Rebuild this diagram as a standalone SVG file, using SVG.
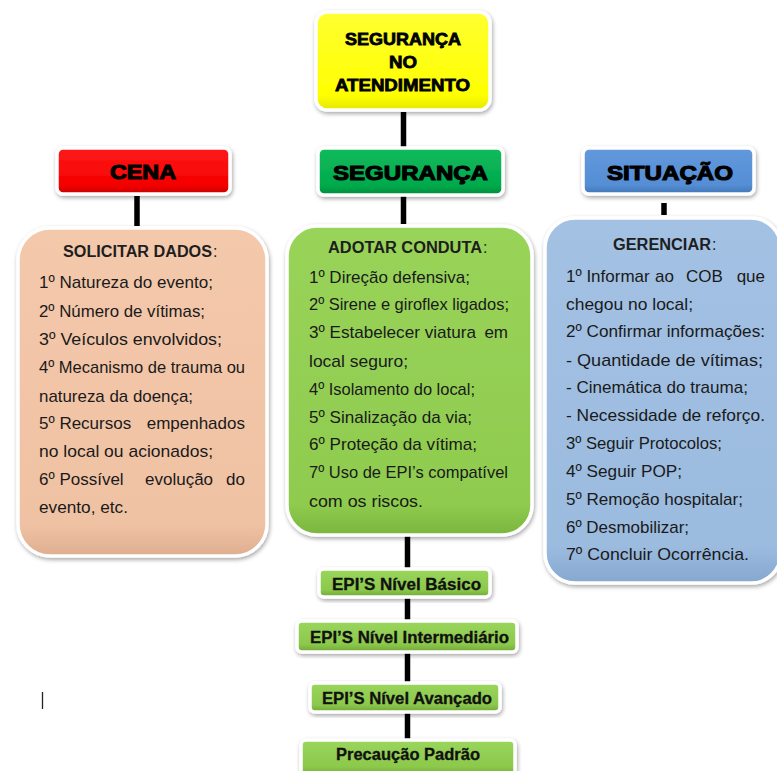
<svg xmlns="http://www.w3.org/2000/svg" width="777" height="771" viewBox="0 0 777 771">
<defs>
  <filter id="sh" x="-10%" y="-10%" width="125%" height="130%">
    <feDropShadow dx="1" dy="2" stdDeviation="2" flood-color="#000" flood-opacity="0.35"/>
  </filter>
  <linearGradient id="gYel" x1="0" y1="0" x2="0" y2="1"><stop offset="0" stop-color="#FFFF33"/><stop offset="0.85" stop-color="#FFFF00"/><stop offset="1" stop-color="#E6E600"/></linearGradient>
  <linearGradient id="gRed" x1="0" y1="0" x2="0" y2="1"><stop offset="0" stop-color="#FF1A1A"/><stop offset="0.8" stop-color="#F50000"/><stop offset="1" stop-color="#C80000"/></linearGradient>
  <linearGradient id="gGrn" x1="0" y1="0" x2="0" y2="1"><stop offset="0" stop-color="#10BB5C"/><stop offset="0.8" stop-color="#00AA4C"/><stop offset="1" stop-color="#008A3C"/></linearGradient>
  <linearGradient id="gBlu" x1="0" y1="0" x2="0" y2="1"><stop offset="0" stop-color="#6399DC"/><stop offset="0.8" stop-color="#558ED5"/><stop offset="1" stop-color="#4275B5"/></linearGradient>
  <linearGradient id="gPea" x1="0" y1="0" x2="0" y2="1"><stop offset="0" stop-color="#F4C8AB"/><stop offset="0.9" stop-color="#F0C2A4"/><stop offset="1" stop-color="#DFAE90"/></linearGradient>
  <linearGradient id="gLgr" x1="0" y1="0" x2="0" y2="1"><stop offset="0" stop-color="#99D45A"/><stop offset="0.9" stop-color="#8FCB4E"/><stop offset="1" stop-color="#7AB63E"/></linearGradient>
  <linearGradient id="gLbl" x1="0" y1="0" x2="0" y2="1"><stop offset="0" stop-color="#A3C1E3"/><stop offset="0.9" stop-color="#9BBBDF"/><stop offset="1" stop-color="#86A7CF"/></linearGradient>
  <linearGradient id="gEpi" x1="0" y1="0" x2="0" y2="1"><stop offset="0" stop-color="#9AD65C"/><stop offset="0.75" stop-color="#8CC84B"/><stop offset="1" stop-color="#6FA637"/></linearGradient>
</defs>
<style>
  .box { stroke: #FFFFFF; stroke-width: 3.5; filter: url(#sh); }
  .ttl { font-family: "Liberation Sans", Arial, sans-serif; font-weight: bold; fill: #000; stroke: #000; stroke-width: 1.1; }
  .ttl2 { font-family: "Liberation Sans", Arial, sans-serif; font-weight: bold; fill: #000; stroke: #000; stroke-width: 0.8; font-size: 17px; }
  .hd { font-family: "Liberation Sans", Arial, sans-serif; font-weight: bold; fill: #1E1E1E; font-size: 16px; }
  .hc { font-family: "Liberation Sans", Arial, sans-serif; fill: #1E1E1E; font-size: 16px; }
  .tx { font-family: "Liberation Sans", Arial, sans-serif; fill: #1A1A1A; font-size: 17px; }
  .end { text-anchor: end; }
  .epi { font-family: "Liberation Sans", Arial, sans-serif; font-weight: bold; fill: #111; font-size: 16px; stroke: #111; stroke-width: 0.3; }
  .con { stroke: #000; stroke-width: 5.5; fill: none; }
</style>

<g id="connectors">
  <line class="con" x1="403.5" y1="112" x2="403.5" y2="147"/>
  <line class="con" x1="137" y1="196" x2="137" y2="226"/>
  <line class="con" x1="403.5" y1="196" x2="403.5" y2="224"/>
  <line class="con" x1="664" y1="203" x2="664" y2="215"/>
  <line class="con" x1="407.5" y1="536" x2="407.5" y2="568"/>
  <line class="con" x1="407.5" y1="598" x2="407.5" y2="620"/>
  <line class="con" x1="407.5" y1="653" x2="407.5" y2="682"/>
  <line class="con" x1="407.5" y1="713" x2="407.5" y2="739"/>
</g>

<g id="node-top">
  <rect class="box" x="316" y="12" width="174" height="98" rx="11" fill="url(#gYel)"/>
  <text class="ttl2" x="345" y="45" textLength="116" lengthAdjust="spacingAndGlyphs">SEGURANÇA</text>
  <text class="ttl2" x="389" y="68" textLength="28" lengthAdjust="spacingAndGlyphs">NO</text>
  <text class="ttl2" x="335" y="91" textLength="135" lengthAdjust="spacingAndGlyphs">ATENDIMENTO</text>
</g>

<g id="node-cena">
  <rect class="box" x="57" y="148" width="173" height="46" rx="6" fill="url(#gRed)"/>
  <text class="ttl" x="110" y="179" font-size="20" textLength="66" lengthAdjust="spacingAndGlyphs">CENA</text>
</g>

<g id="node-seguranca">
  <rect class="box" x="318" y="148" width="185" height="47" rx="6" fill="url(#gGrn)"/>
  <text class="ttl" x="333" y="180" font-size="20" textLength="155" lengthAdjust="spacingAndGlyphs">SEGURANÇA</text>
</g>

<g id="node-situacao">
  <rect class="box" x="583" y="148" width="171" height="46" rx="6" fill="url(#gBlu)"/>
  <text class="ttl" x="607" y="180" font-size="20" textLength="126" lengthAdjust="spacingAndGlyphs">SITUAÇÃO</text>
</g>

<g id="node-solicitar">
  <rect class="box" x="18" y="228" width="249" height="328" rx="32" fill="url(#gPea)"/>
  <text class="hd" x="63" y="257" textLength="149" lengthAdjust="spacingAndGlyphs">SOLICITAR DADOS</text>
  <text class="hc" x="213" y="257">:</text>
  <text class="tx" x="39" y="288" textLength="174" lengthAdjust="spacingAndGlyphs">1º Natureza do evento;</text>
  <text class="tx" x="39" y="317" textLength="166" lengthAdjust="spacingAndGlyphs">2º Número de vítimas;</text>
  <text class="tx" x="39" y="345" textLength="183" lengthAdjust="spacingAndGlyphs">3º Veículos envolvidos;</text>
  <text class="tx" x="39" y="373" textLength="206" lengthAdjust="spacingAndGlyphs">4º Mecanismo de trauma ou</text>
  <text class="tx" x="39" y="402" textLength="154" lengthAdjust="spacingAndGlyphs">natureza da doença;</text>
  <text class="tx" x="39" y="429">5º Recursos</text>
  <text class="tx end" x="245" y="429">empenhados</text>
  <text class="tx" x="39" y="457" textLength="174" lengthAdjust="spacingAndGlyphs">no local ou acionados;</text>
  <text class="tx" x="39" y="485">6º Possível</text>
  <text class="tx" x="145" y="485">evolução</text>
  <text class="tx end" x="245" y="485">do</text>
  <text class="tx" x="39" y="513" textLength="89" lengthAdjust="spacingAndGlyphs">evento, etc.</text>
</g>

<g id="node-adotar">
  <rect class="box" x="287" y="226" width="245" height="309" rx="30" fill="url(#gLgr)"/>
  <text class="hd" x="328" y="253" textLength="154" lengthAdjust="spacingAndGlyphs">ADOTAR CONDUTA</text>
  <text class="hc" x="483" y="253">:</text>
  <text class="tx" x="309" y="283" textLength="161" lengthAdjust="spacingAndGlyphs">1º Direção defensiva;</text>
  <text class="tx" x="309" y="310" textLength="200" lengthAdjust="spacingAndGlyphs">2º Sirene e giroflex ligados;</text>
  <text class="tx" x="309" y="338" textLength="167" lengthAdjust="spacingAndGlyphs">3º Estabelecer viatura</text>
  <text class="tx end" x="508" y="338">em</text>
  <text class="tx" x="309" y="367" textLength="99" lengthAdjust="spacingAndGlyphs">local seguro;</text>
  <text class="tx" x="309" y="395" textLength="166" lengthAdjust="spacingAndGlyphs">4º Isolamento do local;</text>
  <text class="tx" x="309" y="423" textLength="163" lengthAdjust="spacingAndGlyphs">5º Sinalização da via;</text>
  <text class="tx" x="309" y="450" textLength="168" lengthAdjust="spacingAndGlyphs">6º Proteção da vítima;</text>
  <text class="tx" x="309" y="478" textLength="199" lengthAdjust="spacingAndGlyphs">7º Uso de EPI’s compatível</text>
  <text class="tx" x="309" y="507" textLength="114" lengthAdjust="spacingAndGlyphs">com os riscos.</text>
</g>

<g id="node-gerenciar">
  <rect class="box" x="545" y="218" width="236" height="365" rx="30" fill="url(#gLbl)"/>
  <text class="hd" x="613" y="250" textLength="98" lengthAdjust="spacingAndGlyphs">GERENCIAR</text>
  <text class="hc" x="712" y="250">:</text>
  <text class="tx" x="566" y="282">1º Informar</text>
  <text class="tx" x="655" y="282">ao</text>
  <text class="tx" x="686" y="282">COB</text>
  <text class="tx end" x="765" y="282">que</text>
  <text class="tx" x="566" y="310" textLength="127" lengthAdjust="spacingAndGlyphs">chegou no local;</text>
  <text class="tx" x="566" y="337" textLength="199" lengthAdjust="spacingAndGlyphs">2º Confirmar informações:</text>
  <text class="tx" x="566" y="366" textLength="197" lengthAdjust="spacingAndGlyphs">- Quantidade de vítimas;</text>
  <text class="tx" x="566" y="393" textLength="182" lengthAdjust="spacingAndGlyphs">- Cinemática do trauma;</text>
  <text class="tx" x="566" y="421" textLength="199" lengthAdjust="spacingAndGlyphs">- Necessidade de reforço.</text>
  <text class="tx" x="566" y="449" textLength="156" lengthAdjust="spacingAndGlyphs">3º Seguir Protocolos;</text>
  <text class="tx" x="566" y="477" textLength="116" lengthAdjust="spacingAndGlyphs">4º Seguir POP;</text>
  <text class="tx" x="566" y="505" textLength="177" lengthAdjust="spacingAndGlyphs">5º Remoção hospitalar;</text>
  <text class="tx" x="566" y="533" textLength="123" lengthAdjust="spacingAndGlyphs">6º Desmobilizar;</text>
  <text class="tx" x="566" y="560" textLength="183" lengthAdjust="spacingAndGlyphs">7º Concluir Ocorrência.</text>
</g>

<g id="node-epi-basico">
  <rect class="box" x="319" y="569" width="171" height="28" rx="5" fill="url(#gEpi)"/>
  <text class="epi" x="332" y="590" textLength="149" lengthAdjust="spacingAndGlyphs">EPI’S Nível Básico</text>
</g>
<g id="node-epi-intermediario">
  <rect class="box" x="297" y="621" width="220" height="31" rx="5" fill="url(#gEpi)"/>
  <text class="epi" x="310" y="643" textLength="199" lengthAdjust="spacingAndGlyphs">EPI’S Nível Intermediário</text>
</g>
<g id="node-epi-avancado">
  <rect class="box" x="310" y="683" width="190" height="29" rx="5" fill="url(#gEpi)"/>
  <text class="epi" x="322" y="704" textLength="170" lengthAdjust="spacingAndGlyphs">EPI’S Nível Avançado</text>
</g>
<g id="node-precaucao">
  <rect class="box" x="301" y="740" width="214" height="36" rx="5" fill="url(#gEpi)"/>
  <text class="epi" x="336" y="760" textLength="144" lengthAdjust="spacingAndGlyphs">Precaução Padrão</text>
</g>

<line x1="42.5" y1="692" x2="42.5" y2="709" stroke="#222" stroke-width="1.3"/>
</svg>
